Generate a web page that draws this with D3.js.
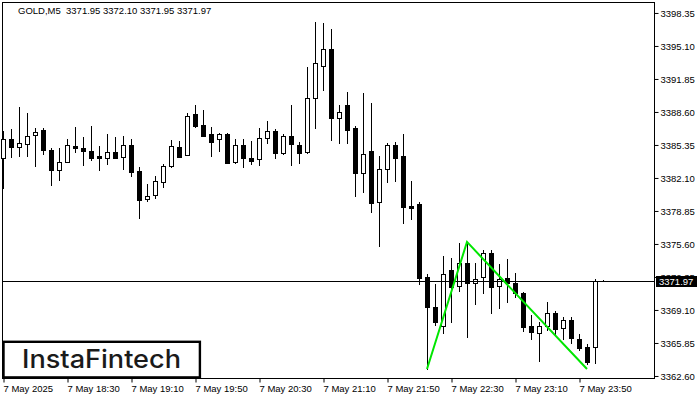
<!DOCTYPE html>
<html>
<head>
<meta charset="utf-8">
<script src="https://cdn.jsdelivr.net/npm/d3@7"></script>
<style>
  html, body { margin: 0; padding: 0; background: #fff; }
  svg { display: block; }
  text { font-family: "Liberation Sans", Arial, sans-serif; }
</style>
</head>
<body>
<svg id="chart" width="700" height="400"></svg>
<script>
// ---- data ----
const symbolTitle = "GOLD,M5  3371.95 3372.10 3371.95 3371.97";
const openP = [3384.07,3385.94,3385.15,3385.45,3386.34,3386.83,3384.86,3382.89,3383.68,3385.25,
  3385.06,3384.76,3384.27,3384.07,3384.66,3384.17,3385.35,3382.79,3380.03,3380.43,
  3381.71,3383.28,3385.15,3384.37,3388.40,3387.32,3386.43,3385.94,3386.43,3383.68,
  3385.35,3384.07,3383.97,3386.04,3386.73,3384.56,3386.24,3385.35,3384.66,3389.98,
  3393.13,3394.80,3388.01,3389.29,3387.02,3382.59,3384.76,3379.74,3382.99,3385.35,
  3384.27,3379.34,3379.54,3372.35,3369.40,3367.52,3373.04,3371.46,3373.73,3371.76,
  3372.35,3374.71,3371.46,3372.25,3371.76,3370.77,3367.52,3366.84,3367.52,3368.81,
  3367.33,3368.12,3366.24,3365.46,3365.46,3371.95];
const highP = [3386.73,3386.93,3389.09,3388.50,3387.02,3387.02,3385.06,3385.06,3385.94,3387.12,
  3386.14,3387.22,3385.25,3386.43,3386.14,3386.24,3385.94,3383.18,3381.51,3382.30,
  3383.48,3385.84,3385.74,3388.50,3389.29,3388.80,3387.12,3386.53,3386.53,3385.94,
  3385.94,3385.74,3387.02,3387.71,3386.93,3386.43,3389.29,3385.65,3393.03,3397.46,
  3397.37,3396.77,3389.29,3390.57,3387.22,3390.47,3389.49,3384.27,3385.55,3385.65,
  3386.43,3381.80,3379.74,3372.65,3371.66,3374.42,3374.22,3375.70,3375.70,3373.73,
  3375.01,3375.01,3373.63,3374.12,3372.74,3370.87,3368.61,3367.92,3369.89,3369.00,
  3368.41,3368.41,3366.74,3365.75,3372.15,3372.10];
const lowP = [3381.11,3384.17,3384.27,3384.27,3383.28,3384.46,3381.41,3381.90,3383.68,3384.66,
  3383.38,3383.87,3382.89,3383.48,3384.07,3382.99,3382.30,3378.16,3379.84,3380.13,
  3381.21,3383.18,3384.17,3384.37,3387.12,3386.24,3384.27,3384.76,3383.58,3383.58,
  3383.18,3383.48,3383.38,3385.55,3384.07,3384.46,3383.38,3383.58,3384.56,3387.02,
  3390.77,3385.84,3385.55,3385.55,3380.33,3380.72,3378.75,3375.40,3381.71,3381.80,
  3377.67,3378.06,3371.66,3363.29,3367.62,3366.84,3367.92,3370.97,3366.44,3369.69,
  3370.77,3368.81,3369.30,3369.89,3370.38,3367.03,3366.24,3364.08,3367.13,3366.74,
  3366.24,3365.85,3365.16,3363.78,3363.88,3371.95];
const closeP = [3385.94,3385.15,3385.55,3386.24,3386.63,3384.86,3382.89,3383.68,3385.35,3385.06,
  3384.76,3384.07,3384.07,3384.66,3384.07,3385.35,3382.69,3379.93,3380.33,3381.80,
  3383.28,3385.25,3384.17,3388.21,3387.22,3386.24,3385.65,3386.43,3383.58,3385.35,
  3384.07,3383.77,3386.04,3386.73,3384.56,3386.24,3385.45,3384.56,3389.98,3393.43,
  3394.80,3388.01,3388.60,3386.83,3382.59,3384.46,3379.64,3382.99,3385.35,3384.07,
  3379.24,3379.15,3372.25,3369.40,3367.92,3372.65,3371.37,3373.73,3371.76,3372.15,
  3374.71,3371.37,3372.15,3371.76,3370.77,3367.43,3366.93,3367.52,3368.81,3367.23,
  3368.12,3366.34,3365.36,3363.98,3371.95,3371.97];
const currentPrice = 3371.97;
const priceTicks = [3362.60,3365.85,3369.10,3372.35,3375.60,3378.85,3382.10,3385.35,3388.60,3391.85,3395.10,3398.35];
const timeTickIdx = [0,8,16,24,32,40,48,56,64,72];
const timeTickLabels = ["7 May 2025","7 May 18:30","7 May 19:10","7 May 19:50","7 May 20:30","7 May 21:10","7 May 21:50","7 May 22:30","7 May 23:10","7 May 23:50"];
const patternIdx = [53, 58, 73];
const patternPrice = [3363.29, 3375.80, 3363.29];
const logoText = "InstaFintech";

// ---- layout ----
const plotL = 2, plotT = 2, plotR = 654, plotB = 378;
const svg = d3.select("#chart");
svg.append("rect").attr("width", 700).attr("height", 400).attr("fill", "#fff");

const x = d3.scaleLinear().domain([0, 75]).range([3, 603]);
const y = d3.scaleLinear().domain([3362.40, 3399.43]).range([plotB, plotT]);

// plot frame
svg.append("rect")
  .attr("x", plotL + 0.5).attr("y", plotT + 0.5)
  .attr("width", plotR - plotL).attr("height", plotB - plotT)
  .attr("fill", "none").attr("stroke", "#000").attr("stroke-width", 1);

// right price axis
const yAxis = d3.axisRight(y).tickValues(priceTicks).tickFormat(d3.format(".2f")).tickSize(4).tickPadding(2);
const gy = svg.append("g").attr("transform", `translate(${plotR + 0.5},0)`).call(yAxis);
gy.select(".domain").remove();
gy.selectAll(".tick line").attr("stroke", "#000");
gy.selectAll(".tick text").attr("fill", "#000").style("font-size", "9.5px")
  .style("font-family", "'Liberation Sans', Arial, sans-serif");

// bottom time axis
const xAxis = d3.axisBottom(x).tickValues(timeTickIdx)
  .tickFormat((d, i) => timeTickLabels[i]).tickSize(4).tickPadding(3);
const gx = svg.append("g").attr("transform", `translate(0.5,${plotB + 0.5})`).call(xAxis);
gx.select(".domain").remove();
gx.selectAll(".tick line").attr("stroke", "#000");
gx.selectAll(".tick text").attr("fill", "#000").attr("text-anchor", "start").attr("x", -0.5)
  .style("font-size", "9.5px").style("font-family", "'Liberation Sans', Arial, sans-serif");

// candles
const idx = d3.range(openP.length);
const cg = svg.append("g");
cg.selectAll("line.wick").data(idx).join("line")
  .attr("class", "wick")
  .attr("x1", i => Math.round(x(i)) + 0.5).attr("x2", i => Math.round(x(i)) + 0.5)
  .attr("y1", i => Math.round(y(highP[i]))).attr("y2", i => Math.round(y(lowP[i])) + 1)
  .attr("stroke", "#000").attr("stroke-width", 1);
cg.selectAll("rect.body").data(idx.filter(i => i < openP.length - 1)).join("rect")
  .attr("class", "body")
  .attr("x", i => Math.round(x(i)) - 1.5)
  .attr("y", i => Math.round(y(Math.max(openP[i], closeP[i]))) + 0.5)
  .attr("width", 4)
  .attr("height", i => Math.max(1, Math.round(y(Math.min(openP[i], closeP[i]))) - Math.round(y(Math.max(openP[i], closeP[i])))))
  .attr("fill", i => closeP[i] >= openP[i] ? "#fff" : "#000")
  .attr("stroke", "#000").attr("stroke-width", 1);
// last (current) bar: tiny dash
const li = openP.length - 1;
cg.append("line")
  .attr("x1", Math.round(x(li)) - 2).attr("x2", Math.round(x(li)) + 2)
  .attr("y1", Math.round(y(closeP[li])) + 0.5).attr("y2", Math.round(y(closeP[li])) + 0.5)
  .attr("stroke", "#000").attr("stroke-width", 1);

// current price line
const cy = Math.round(y(currentPrice)) + 0.5;
svg.append("line").attr("x1", plotL).attr("x2", plotR).attr("y1", cy).attr("y2", cy)
  .attr("stroke", "#000").attr("stroke-width", 1);
svg.append("rect").attr("x", 656).attr("y", cy - 5.5).attr("width", 41).attr("height", 11).attr("fill", "#000");
svg.append("text").attr("x", 659).attr("y", cy + 3.5).attr("fill", "#fff")
  .style("font-size", "9.5px").text(d3.format(".2f")(currentPrice));

// pattern line
const pat = patternIdx.map((d, i) => [x(d), y(patternPrice[i])]);
svg.append("path").attr("d", d3.line()(pat)).attr("fill", "none")
  .attr("stroke", "#00e600").attr("stroke-width", 2).attr("stroke-linejoin", "miter");

// title
svg.append("text").attr("x", 18).attr("y", 14).attr("fill", "#000")
  .style("font-size", "9.5px").style("white-space", "pre").text(symbolTitle);

// logo
svg.append("rect").attr("x", 3.5).attr("y", 341.8).attr("width", 196.4).attr("height", 35.6)
  .attr("fill", "#fff").attr("stroke", "#000").attr("stroke-width", 2.4);
svg.append("text").attr("x", 22).attr("y", 368).attr("fill", "#1a1a1a")
  .attr("textLength", 159).attr("lengthAdjust", "spacingAndGlyphs")
  .style("font-family", "Inter, Lato, 'Open Sans', sans-serif").style("font-weight", "500")
  .style("font-size", "25px").text(logoText);
</script>
</body>
</html>
